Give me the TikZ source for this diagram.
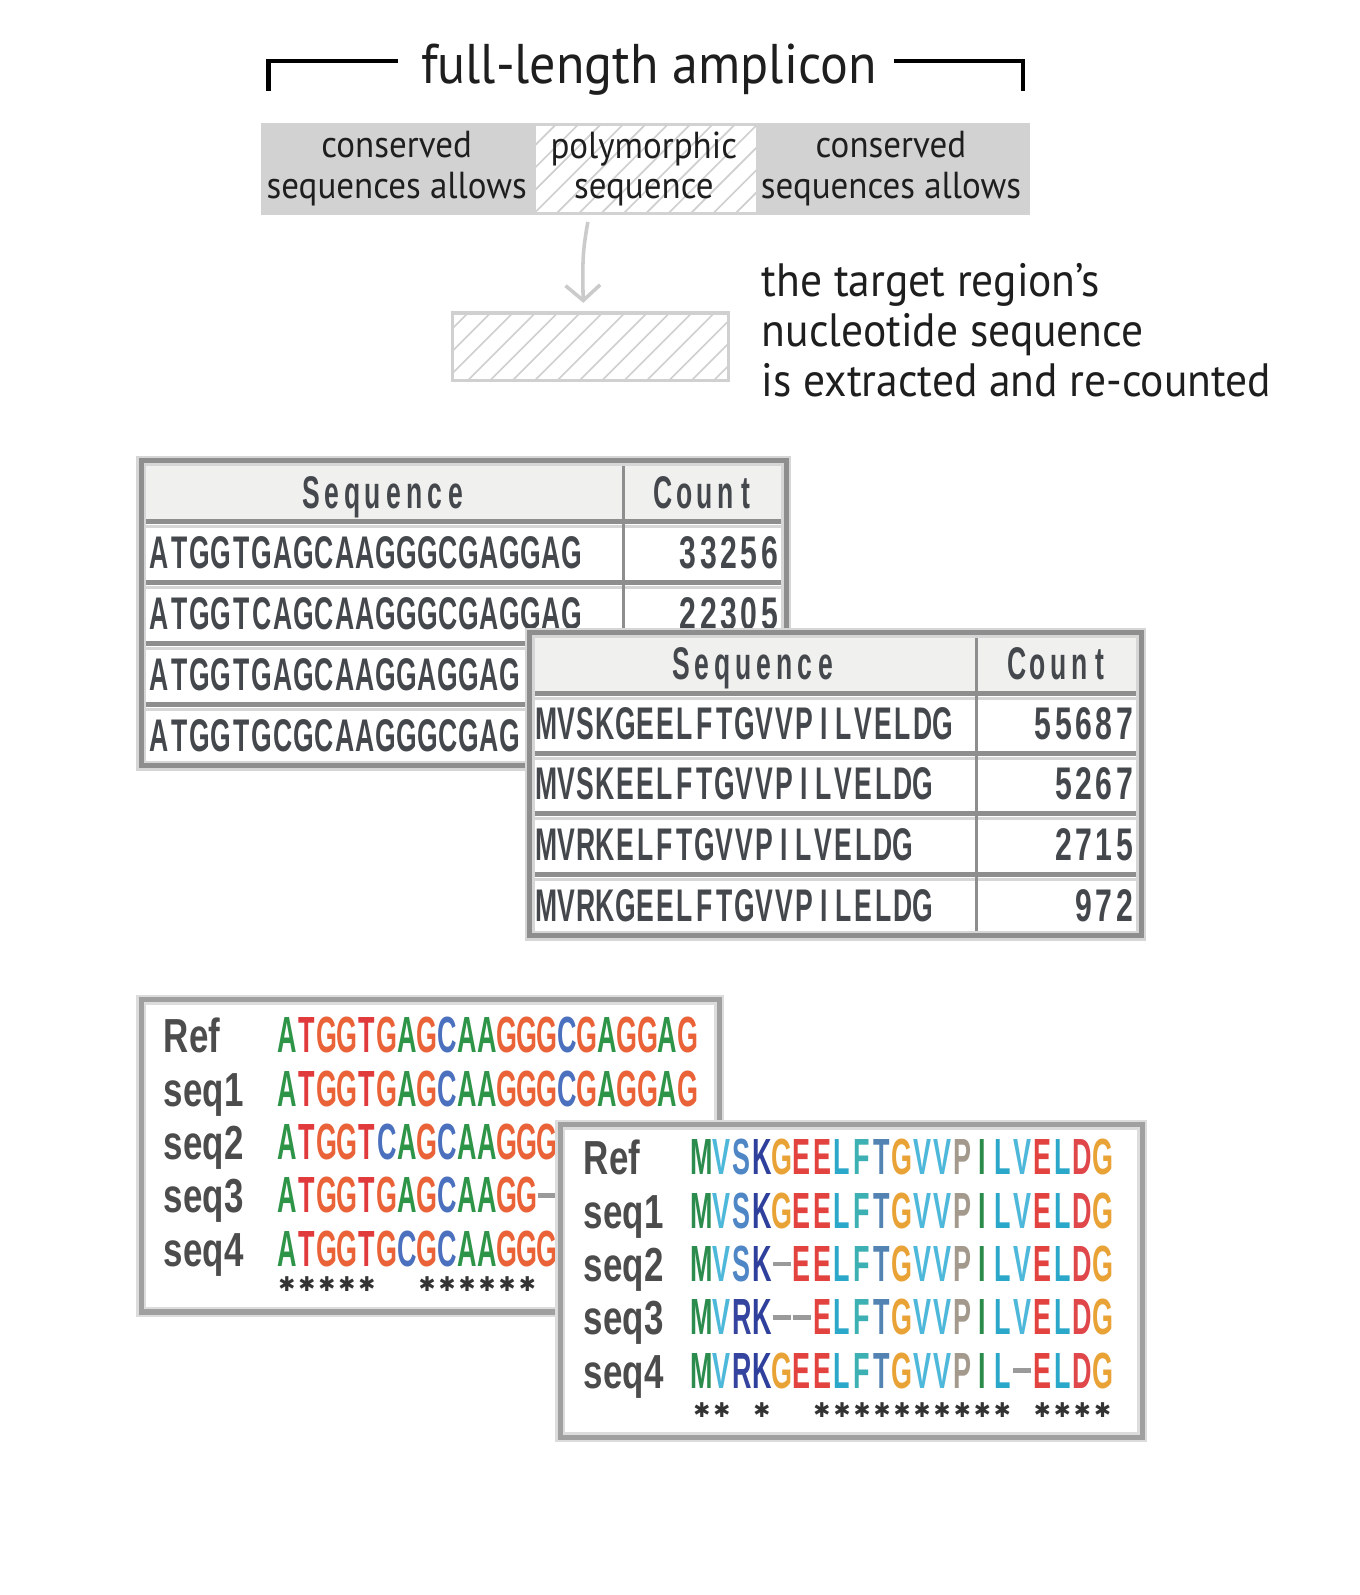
\documentclass[tikz,border=0pt]{standalone}
\usepackage{fontspec}
\setmainfont{PT Sans}[FakeStretch=0.93]
\newfontfamily\tbfont{Liberation Sans}[FakeStretch=0.58]
\newfontfamily\tdfont{Liberation Sans}[FakeStretch=0.66]
\newfontfamily\alfont{Liberation Sans}[FakeStretch=0.53]
\newfontfamily\lbfont{Liberation Sans}[FakeStretch=0.73]
\newfontfamily\stfont{DejaVu Sans}
\usetikzlibrary{arrows.meta}

\definecolor{barGray}{HTML}{D1D2D1}
\definecolor{hatchGray}{HTML}{CFCFCF}
\definecolor{boxGray}{HTML}{D0D0D0}
\definecolor{arrGray}{HTML}{CBCBCB}
\definecolor{tabLine}{HTML}{8E8E8E}
\definecolor{tabHalo}{HTML}{D6D6D6}
\definecolor{tabHead}{HTML}{F0F0EF}
\definecolor{tabText}{HTML}{44484C}
\definecolor{alnLine}{HTML}{A0A0A0}
\definecolor{alnHalo}{HTML}{DCDCDC}
\definecolor{labc}{HTML}{4C4C4C}
\definecolor{txtc}{HTML}{1E1E1E}
\definecolor{gapc}{HTML}{9A9A9A}
\definecolor{starc}{HTML}{333333}
% nucleotides
\definecolor{nA}{HTML}{2E9448}
\definecolor{nT}{HTML}{E13A3C}
\definecolor{nG}{HTML}{EA6238}
\definecolor{nC}{HTML}{4B70BE}
% amino acids
\definecolor{aM}{HTML}{2B8C4E}
\definecolor{aV}{HTML}{4DB8DA}
\definecolor{aS}{HTML}{4F86C6}
\definecolor{aK}{HTML}{2E3F9C}
\definecolor{aR}{HTML}{34449F}
\definecolor{aG}{HTML}{E9A235}
\definecolor{aE}{HTML}{E2433F}
\definecolor{aL}{HTML}{2BA7C9}
\definecolor{aF}{HTML}{3DB0B3}
\definecolor{aT}{HTML}{5383B3}
\definecolor{aP}{HTML}{A39A8D}
\definecolor{aI}{HTML}{2A8B4B}
\definecolor{aD}{HTML}{E0474B}

\newcommand\setcol[3]{\expandafter\def\csname#1#2\endcsname{\color{#3}}}
\setcol{nt}{A}{nA}\setcol{nt}{T}{nT}\setcol{nt}{G}{nG}\setcol{nt}{C}{nC}
\setcol{nt}{-}{gapc}
\setcol{aa}{M}{aM}\setcol{aa}{V}{aV}\setcol{aa}{S}{aS}\setcol{aa}{K}{aK}
\setcol{aa}{R}{aR}\setcol{aa}{G}{aG}\setcol{aa}{E}{aE}\setcol{aa}{L}{aL}
\setcol{aa}{F}{aF}\setcol{aa}{T}{aT}\setcol{aa}{P}{aP}\setcol{aa}{I}{aI}
\setcol{aa}{D}{aD}\setcol{aa}{-}{gapc}

\newlength\cw
\newcommand\curmap{x}
\def\seqchar#1{\makebox[\cw][c]{\csname\curmap#1\endcsname
  \ifx#1.\relax\else\ifx#1-\rule[0.30em]{0.9\cw}{0.09em}\else#1\fi\fi}}
\def\seqrun#1{\ifx#1\relax\else\seqchar{#1}\expandafter\seqrun\fi}
\newcommand\mono[2]{\setlength\cw{#1pt}\seqrun#2\relax}

\tikzset{
  barlbl/.style={inner sep=0, align=center, text=txtc,
    font=\fontsize{37}{40}\selectfont},
  rtxt/.style={inner sep=0, anchor=base west, text=txtc,
    font=\fontsize{46}{49}\selectfont},
  hatchline/.style={hatchGray, line width=1.6},
  tabtxt/.style={inner sep=0, anchor=base west, text=tabText,
    font=\tbfont\bfseries\fontsize{45}{45}\selectfont},
  cnttxt/.style={inner sep=0, anchor=base east, text=tabText,
    font=\tdfont\bfseries\fontsize{45}{45}\selectfont},
  lbl/.style={inner sep=0, anchor=base west, text=labc,
    font=\lbfont\bfseries\fontsize{47}{47}\selectfont},
  alntxt/.style={inner sep=0, anchor=base west,
    font=\alfont\bfseries\fontsize{50}{50}\selectfont},
  startxt/.style={inner sep=0, anchor=west, text=starc,
    font=\stfont\bfseries\fontsize{20}{20}\selectfont},
  halo/.style={line width=10},
  frame/.style={line width=5},
}

\begin{document}
\begin{tikzpicture}[x=1pt,y=-1pt]
\useasboundingbox (0,0) rectangle (1336.3,1568.3);
\fill[white] (0,0) rectangle (1336.3,1568.3);

% ---------- title and bracket ----------
\node[inner sep=0, anchor=base, text=txtc, font=\fontsize{55}{55}\selectfont] (title) at (638,82) {full-length amplicon};
\draw[line width=4] (264,89) -- (264,60) -- (391,60);
\draw[line width=4] (879,60) -- (1006,60) -- (1006,89);

% ---------- amplicon bar ----------
\node[fill=barGray, inner sep=0, minimum width=756, minimum height=90] (bar) at (635,166) {};
\node[fill=white, inner sep=0, minimum width=216, minimum height=84] (poly) at (635,166) {};
\begin{scope}
  \clip (poly.south west) rectangle (poly.north east);
  \foreach \k in {0,...,15} \draw[hatchline] ({527-90+\k*22},210) -- ++(100,-100);
\end{scope}
\node[barlbl] (cons1) at (390,166) {conserved\\sequences allows};
\node[barlbl] (polyt) at (633,166) {polymorphic\\sequence};
\node[barlbl] (cons2) at (876,166) {conserved\\sequences allows};

% ---------- extracted target ----------
\node[inner sep=0, minimum width=271, minimum height=66] (target) at (580.5,341) {};
\begin{scope}
  \clip (target.south west) rectangle (target.north east);
  \foreach \k in {0,...,17} \draw[hatchline] ({445-75+\k*22},376) -- ++(90,-90);
\end{scope}
\draw[boxGray, line width=3.5] (target.south west) rectangle (target.north east);

\draw[arrGray, line width=3.5, -{Straight Barb[length=15pt,width=34pt]}]
  ([xshift=-57pt,yshift=-10pt]poly.south) .. controls +(-5,28) and +(-1,-40) .. ([xshift=-7pt,yshift=10pt]target.north);

\node[rtxt] (r1) at (749,292) {the target region’s};
\node[rtxt] (r2) at (749,341) {nucleotide sequence};
\node[rtxt] (r3) at (749,390) {is extracted and re-counted};

% ---------- table 1 (nucleotide counts) ----------
\fill[white] (139,453) rectangle (773,753);
\fill[tabHead] (139,453) rectangle (773,513);
\foreach \yy in {513,573,633,693} {
  \draw[tabLine, line width=5] (139,\yy) -- (773,\yy);
  \draw[tabHalo, line width=3] (141,\yy+5) -- (771,\yy+5);
}
\draw[tabLine, line width=3] (613,453) -- (613,753);
\draw[tabHalo, halo] (139,453) rectangle (773,753);
\draw[tabLine, frame] (139,453) rectangle (773,753);

\node[tabtxt, anchor=base] (t1hs) at (377,500) {\mono{20.3}{Sequence}};
\node[tabtxt, anchor=base] (t1hc) at (693,500) {\mono{20.3}{Count}};
\node[tabtxt] (t1s1) at (146,559) {\mono{20.3}{ATGGTGAGCAAGGGCGAGGAG}};
\node[cnttxt] (t1c1) at (767,559) {\mono{20}{33256}};
\node[tabtxt] (t1s2) at (146,619) {\mono{20.3}{ATGGTCAGCAAGGGCGAGGAG}};
\node[cnttxt] (t1c2) at (767,619) {\mono{20}{22305}};
\node[tabtxt] (t1s3) at (146,679) {\mono{20.3}{ATGGTGAGCAAGGAGGAG}};
\node[tabtxt] (t1s4) at (146,739) {\mono{20.3}{ATGGTGCGCAAGGGCGAG}};

% ---------- table 2 (amino-acid counts) ----------
\fill[white] (521,622) rectangle (1122,920);
\fill[tabHead] (521,622) rectangle (1122,682);
\foreach \yy in {682,741,800,860} {
  \draw[tabLine, line width=5] (521,\yy) -- (1122,\yy);
  \draw[tabHalo, line width=3] (523,\yy+5) -- (1120,\yy+5);
}
\draw[tabLine, line width=3] (960,622) -- (960,920);
\draw[tabHalo, halo] (521,622) rectangle (1122,920);
\draw[tabLine, frame] (521,622) rectangle (1122,920);

\node[tabtxt, anchor=base] (t2hs) at (741,668) {\mono{20.3}{Sequence}};
\node[tabtxt, anchor=base] (t2hc) at (1041,668) {\mono{20.3}{Count}};
\node[tabtxt] (t2s1) at (527,727) {\mono{19.5}{MVSKGEELFTGVVPILVELDG}};
\node[cnttxt] (t2c1) at (1116,727) {\mono{20}{55687}};
\node[tabtxt] (t2s2) at (527,786) {\mono{19.5}{MVSKEELFTGVVPILVELDG}};
\node[cnttxt] (t2c2) at (1116,786) {\mono{20}{5267}};
\node[tabtxt] (t2s3) at (527,846) {\mono{19.5}{MVRKELFTGVVPILVELDG}};
\node[cnttxt] (t2c3) at (1116,846) {\mono{20}{2715}};
\node[tabtxt] (t2s4) at (527,906) {\mono{19.5}{MVRKGEELFTGVVPILELDG}};
\node[cnttxt] (t2c4) at (1116,906) {\mono{20}{972}};

% ---------- alignment 1 (nucleotides) ----------
\fill[white] (139,983) rectangle (707,1290);
\draw[alnHalo, halo] (139,983) rectangle (707,1290);
\draw[alnLine, frame] (139,983) rectangle (707,1290);
\node[lbl] (n0) at (161,1035) {Ref};
\node[lbl] (n1) at (161,1087.5) {seq1};
\node[lbl] (n2) at (161,1140) {seq2};
\node[lbl] (n3) at (161,1192.5) {seq3};
\node[lbl] (n4) at (161,1245) {seq4};
\node[alntxt] (ns0) at (272,1035) {\def\curmap{nt}\mono{19.7}{ATGGTGAGCAAGGGCGAGGAG}};
\node[alntxt] (ns1) at (272,1087.5) {\def\curmap{nt}\mono{19.7}{ATGGTGAGCAAGGGCGAGGAG}};
\node[alntxt] (ns2) at (272,1140) {\def\curmap{nt}\mono{19.7}{ATGGTCAGCAAGGG}};
\node[alntxt] (ns3) at (272,1192.5) {\def\curmap{nt}\mono{19.7}{ATGGTGAGCAAGG-}};
\node[alntxt] (ns4) at (272,1245) {\def\curmap{nt}\mono{19.7}{ATGGTGCGCAAGGG}};
\node[startxt] (nst) at (272,1263) {\mono{19.7}{✱✱✱✱✱..✱✱✱✱✱✱}};

% ---------- alignment 2 (amino acids) ----------
\fill[white] (551,1106) rectangle (1123,1413);
\draw[alnHalo, halo] (551,1106) rectangle (1123,1413);
\draw[alnLine, frame] (551,1106) rectangle (1123,1413);
\node[lbl] (p0) at (574,1155) {Ref};
\node[lbl] (p1) at (574,1207.5) {seq1};
\node[lbl] (p2) at (574,1260) {seq2};
\node[lbl] (p3) at (574,1312.5) {seq3};
\node[lbl] (p4) at (574,1365) {seq4};
\node[alntxt] (ps0) at (680,1155) {\def\curmap{aa}\mono{19.7}{MVSKGEELFTGVVPILVELDG}};
\node[alntxt] (ps1) at (680,1207.5) {\def\curmap{aa}\mono{19.7}{MVSKGEELFTGVVPILVELDG}};
\node[alntxt] (ps2) at (680,1260) {\def\curmap{aa}\mono{19.7}{MVSK-EELFTGVVPILVELDG}};
\node[alntxt] (ps3) at (680,1312.5) {\def\curmap{aa}\mono{19.7}{MVRK--ELFTGVVPILVELDG}};
\node[alntxt] (ps4) at (680,1365) {\def\curmap{aa}\mono{19.7}{MVRKGEELFTGVVPIL-ELDG}};
\node[startxt] (pst) at (680,1386) {\mono{19.7}{✱✱.✱..✱✱✱✱✱✱✱✱✱✱.✱✱✱✱}};
\end{tikzpicture}
\end{document}
